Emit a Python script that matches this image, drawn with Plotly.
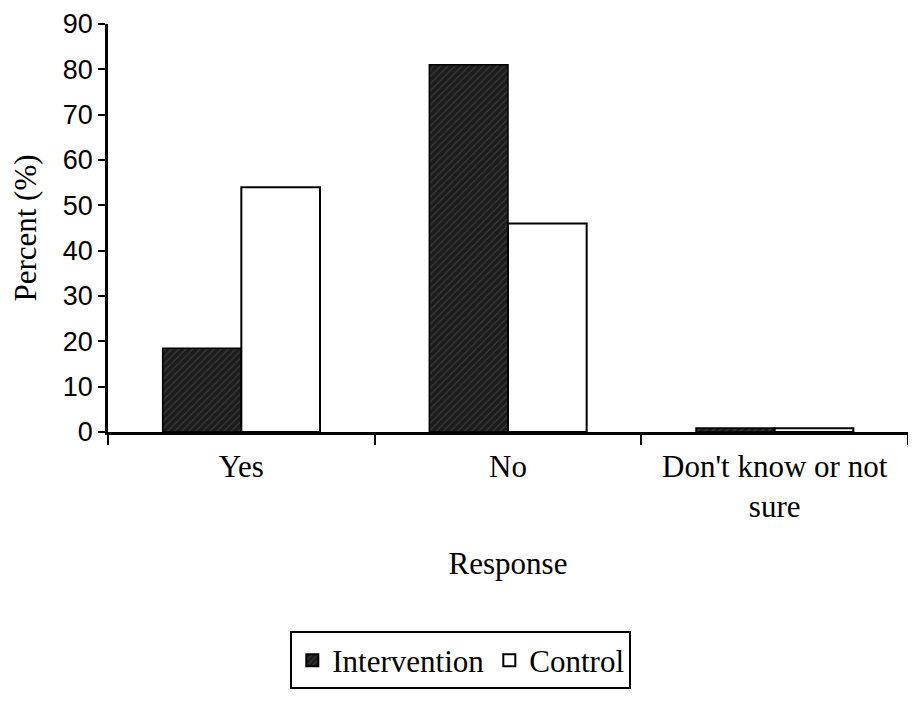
import plotly.graph_objects as go

categories = ["Yes", "No", "Don't know or not<br>sure"]
intervention = [18.5, 81, 0.9]
control = [54, 46, 0.8]

fig = go.Figure()
fig.add_trace(go.Bar(
    x=categories, y=intervention, name="Intervention",
    marker=dict(color="#1c1c1c", line=dict(color="black", width=1.5),
                pattern=dict(shape="/", fgcolor="#5a5a5a", size=5, solidity=0.25)),
))
fig.add_trace(go.Bar(
    x=categories, y=control, name="Control",
    marker=dict(color="white", line=dict(color="black", width=2)),
))

fig.update_layout(
    width=916, height=704,
    paper_bgcolor="white", plot_bgcolor="white",
    margin=dict(l=100, r=16, t=16, b=280),
    barmode="group", bargap=0.41, bargroupgap=0,
    font=dict(family="Liberation Serif", color="black", size=30),
    legend=dict(orientation="h", x=0.441, xanchor="center", y=-0.56, yanchor="middle",
                bordercolor="black", borderwidth=2, font=dict(size=31, family="Liberation Serif"),
                itemsizing="constant", traceorder="normal", itemwidth=30,
                tracegroupgap=0),
    showlegend=True,
)
fig.update_xaxes(
    type="category", showline=True, linecolor="black", linewidth=2.5,
    ticks="outside", tickson="boundaries", ticklen=10, tickwidth=2, tickcolor="black",
    ticklabelstandoff=5,
    tickfont=dict(family="Liberation Serif", size=31),
    title=dict(text="Response", font=dict(family="Liberation Serif", size=31), standoff=30),
    showgrid=False, zeroline=False, mirror=False, automargin=False,
)
fig.update_yaxes(
    range=[0, 90], dtick=10, showline=True, linecolor="black", linewidth=2.5,
    ticks="outside", ticklen=7, tickwidth=2, tickcolor="black",
    ticklabeloverflow="allow",
    tickfont=dict(family="Liberation Sans", size=27),
    title=dict(text="Percent (%)", font=dict(family="Liberation Serif", size=31), standoff=32),
    showgrid=False, zeroline=False, automargin=False,
)

fig.write_html("out.html")
